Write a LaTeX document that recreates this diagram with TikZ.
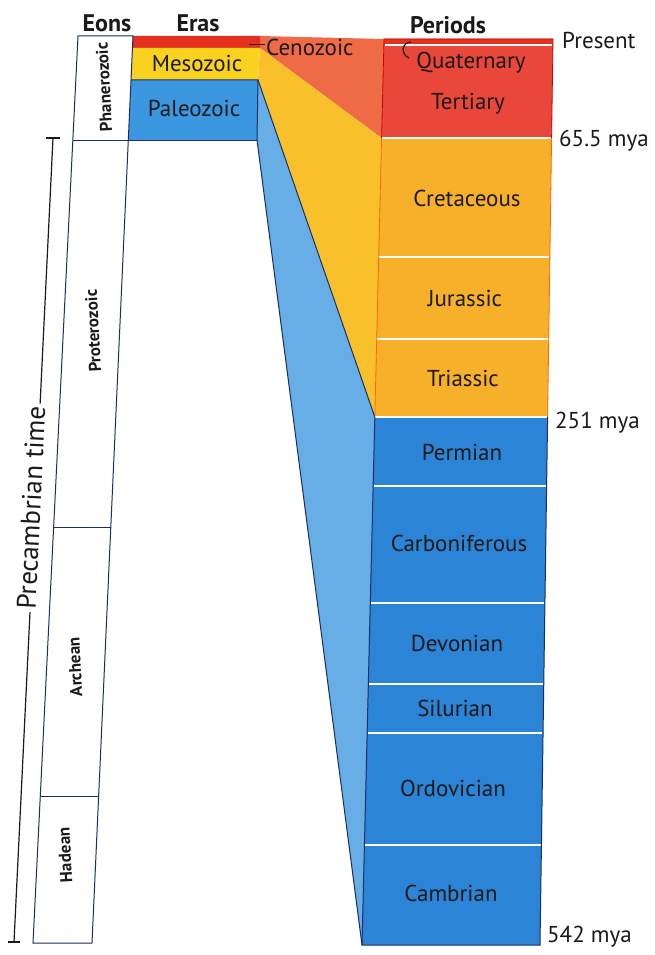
\documentclass[tikz,border=0pt]{standalone}
\usepackage{fontspec}
\setmainfont{PT Sans}
\usetikzlibrary{positioning,calc}
\definecolor{ink}{HTML}{1A1A1A}
\definecolor{navy}{HTML}{1B2E63}
\definecolor{cenored}{HTML}{E3301F}
\definecolor{cenowedge}{HTML}{EE6B46}
\definecolor{tertred}{HTML}{E9473A}
\definecolor{mesoyellow}{HTML}{F9D11F}
\definecolor{mesowedge}{HTML}{F8C02A}
\definecolor{mesoorange}{HTML}{F6B02A}
\definecolor{paleoblue}{HTML}{3A97E0}
\definecolor{paleowedge}{HTML}{68AEE6}
\definecolor{paleodeep}{HTML}{2B84D6}

\begin{document}
\begin{tikzpicture}[x=1pt,y=-1pt,
  lbl/.style={font=\fontsize{23}{26}\selectfont,text=ink,inner sep=1pt},
  hd/.style={font=\fontsize{24}{28}\selectfont\bfseries,text=ink,inner sep=1pt},
  eon/.style={font=\fontsize{17}{20}\selectfont\bfseries,text=ink,rotate=93,inner sep=1pt},
  sep/.style={white,line width=2.5pt},
  edge/.style={navy,line width=1pt}]
\useasboundingbox[fill=white] (0,0) rectangle (655,955);

% wedges between eras and periods
\fill[cenowedge] (260,36) -- (384,39) -- (381.6,138) -- (260,48) -- cycle;
\fill[mesowedge] (260,48) -- (381.6,138) -- (374.8,417) -- (258,80) -- cycle;
\fill[paleowedge] (258,80) -- (374.8,417) -- (362,945) -- (257,140) -- cycle;

% eras
\fill[cenored] (133,36) -- (260,36) -- (260,48) -- (132.4,48) -- cycle;
\fill[mesoyellow] (132.4,48) -- (260,48) -- (258,80) -- (131,80) -- cycle;
\fill[paleoblue] (131,80) -- (258,80) -- (257,140) -- (128.3,140) -- cycle;

% periods
\fill[tertred] (384,39) -- (553,39) -- (551.6,138) -- (381.6,138) -- cycle;
\fill[cenored] (384,39) -- (553,39) -- (552.9,45) -- (383.9,45) -- cycle;
\fill[mesoorange] (381.6,138) -- (551.6,138) -- (547.6,417) -- (374.8,417) -- cycle;
\fill[paleodeep] (374.8,417) -- (547.6,417) -- (540,945) -- (362,945) -- cycle;
\draw[sep,line width=2pt] (385,45) -- (552,45);
\draw[sep] (382,138) -- (551,138);
\draw[sep] (379,257) -- (549,257);
\draw[sep] (377,339) -- (548,339);
\draw[sep] (375,417) -- (547,417);
\draw[sep] (374,486) -- (546,486);
\draw[sep] (371,603) -- (544,603);
\draw[sep] (369,684) -- (543,684);
\draw[sep] (368,733) -- (542,733);
\draw[sep] (365,845) -- (541,845);

% outlines
\draw[red!80!black,line width=0.8pt] (381.6,138) -- (384,39) -- (553,39) -- (551.6,138);
\draw[orange!80!red,line width=0.8pt] (381.6,138) -- (374.8,417) (551.6,138) -- (547.6,417);
\draw[edge] (374.8,417) -- (362,945) -- (540,945) -- (547.6,417);
\draw[edge] (258,80) -- (374.8,417);
\draw[edge] (257,140) -- (362,945);
\draw[edge] (131,80) -- (258,80) -- (257,140);

% eons
\draw[edge] (78,36) -- (133,36) -- (92,943) -- (33,943) -- cycle;
\draw[edge] (72.8,140) -- (257,140);
\draw[edge] (53.6,527) -- (110.8,527);
\draw[edge] (40.3,796) -- (98.6,796);

% headers
\node[hd] (hdEons) at (107,23) {Eons};
\node[hd] (hdEras) at (198,23) {Eras};
\node[hd] (hdPeriods) at (448,25) {Periods};

% eon labels
\node[eon] (eonPhan) at (104,87) {Phanerozoic};
\node[eon] (eonProt) at (93,331) {Proterozoic};
\node[eon] (eonArch) at (75,667) {Archean};
\node[eon] (eonHad) at (65,855) {Hadean};

% era labels
\node[lbl] (eraMeso) at (197,63) {Mesozoic};
\node[lbl] (eraPaleo) at (194,108) {Paleozoic};
\node[lbl,anchor=west] (eraCeno) at (265,47) {Cenozoic};
\coordinate (cenoStrip) at (249,45);
\draw[ink,line width=1pt] (cenoStrip) -- (cenoStrip -| eraCeno.west);

% period labels
\node[lbl] (perQuat) at (471,63) {Quaternary};
\node[lbl] (perTert) at (468,104) {Tertiary};
\node[lbl] (perCret) at (467,198) {Cretaceous};
\node[lbl] (perJur) at (465,298) {Jurassic};
\node[lbl] (perTri) at (463,378) {Triassic};
\node[lbl] (perPerm) at (462,452) {Permian};
\node[lbl] (perCarb) at (459,543) {Carboniferous};
\node[lbl] (perDev) at (457,643) {Devonian};
\node[lbl] (perSil) at (455,708) {Silurian};
\node[lbl] (perOrd) at (453,788) {Ordovician};
\node[lbl] (perCamb) at (451,893) {Cambrian};
\coordinate (quatSliver) at (411,42);
\coordinate (quatHook) at (409,58);
\draw[ink,line width=1.2pt] (quatSliver) .. controls (402,42) and (400,54) .. (quatHook);

% time marks
\node[lbl,anchor=west] (tPresent) at (561,40) {Present};
\node[lbl,anchor=west] (t655) at (558,141) {65.5 mya};
\node[lbl,anchor=west] (t251) at (554,423) {251 mya};
\node[lbl,anchor=west] (t542) at (546,937) {542 mya};

% precambrian bracket
\coordinate (pcTop) at (53,138);
\coordinate (pcBot) at (14,942);
\draw[ink,line width=1.2pt] (pcBot) -- node[pos=0.54,sloped,yshift=4pt,fill=white,inner sep=3pt,font=\fontsize{27}{30}\selectfont,text=ink] (precamb) {Precambrian time} (pcTop);
\draw[ink,line width=1.2pt] ([xshift=-7pt]pcTop) -- ([xshift=7pt]pcTop);
\draw[ink,line width=1.2pt] ([xshift=-6pt]pcBot) -- ([xshift=6pt]pcBot);
\end{tikzpicture}
\end{document}
